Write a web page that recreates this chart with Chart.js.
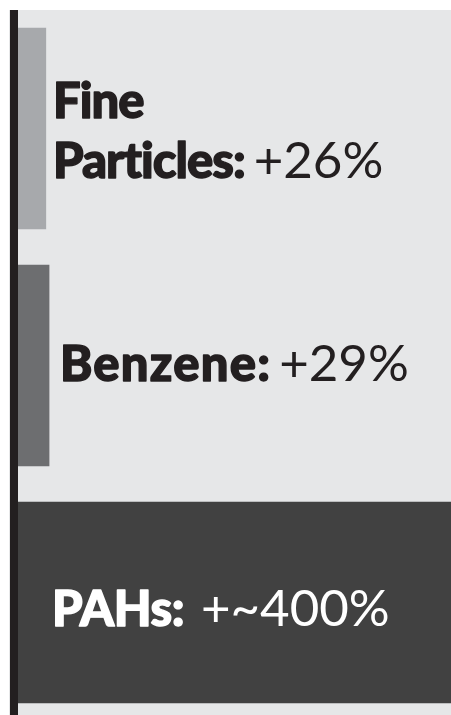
<!DOCTYPE html>
<html>
<head>
<meta charset="utf-8">
<script src="https://cdn.jsdelivr.net/npm/chart.js@4"></script>
<style>
  html, body { margin: 0; padding: 0; background: #ffffff; overflow: hidden; }
  #wrap { width: 451px; height: 715px; overflow: hidden; position: relative; }
  canvas { display: block; }
</style>
</head>
<body>
<div id="wrap"><canvas id="c" width="451" height="725"></canvas></div>
<script>
// ---- data ----
const categories = ['Fine Particles', 'Benzene', 'PAHs'];
const labelLines = [['Fine', 'Particles:'], ['Benzene:'], ['PAHs:']];
const valueLabels = ['+26%', '+29%', '+~400%'];
const increases = [26, 29, 400];

const barColors = ['#a7a9ac', '#6d6e70', '#414141'];
const textColors = ['#231f20', '#231f20', '#ffffff'];

const panelPlugin = {
  id: 'panel',
  beforeDraw(chart) {
    const ctx = chart.ctx;
    ctx.save();
    ctx.fillStyle = '#e6e7e8';
    ctx.fillRect(9, 10, chart.width - 9, chart.height - 10);
    ctx.restore();
  },
  afterDatasetsDraw(chart) {
    const ctx = chart.ctx, a = chart.chartArea;
    ctx.save();
    ctx.fillStyle = '#231f20';
    ctx.fillRect(a.left - 8, 10, 8, chart.height - 10);
    const meta = chart.getDatasetMeta(0);
    const boldFont = '900 49px Lato, "Open Sans", sans-serif';
    const regFont = '400 51px Lato, "Open Sans", sans-serif';
    const cfg = [
      { x: 53, dy: [-11, 49], gap: 9, ls: '-1px' },
      { x: 60, dy: [15], gap: 8, ls: '1.2px' },
      { x: 52, dy: [23], gap: 17, ls: '-0.5px' }
    ];
    ctx.textBaseline = 'alphabetic';
    ctx.textAlign = 'left';
    ctx.lineJoin = 'round';
    meta.data.forEach((bar, i) => {
      const c = cfg[i];
      const lines = labelLines[i];
      ctx.fillStyle = textColors[i];
      ctx.strokeStyle = textColors[i];
      let lastEnd = 0, lastY = 0;
      lines.forEach((ln, j) => {
        const y = bar.y + c.dy[j];
        ctx.font = boldFont;
        ctx.letterSpacing = c.ls;
        ctx.lineWidth = 1.4;
        ctx.fillText(ln, c.x, y);
        ctx.strokeText(ln, c.x, y);
        lastEnd = c.x + ctx.measureText(ln).width;
        lastY = y;
      });
      ctx.font = regFont;
      ctx.letterSpacing = '0px';
      ctx.fillText(valueLabels[i], lastEnd + c.gap, lastY);
    });
    ctx.restore();
  }
};

new Chart(document.getElementById('c'), {
  type: 'bar',
  data: {
    labels: categories,
    datasets: [{
      data: increases,
      backgroundColor: barColors,
      borderWidth: 0,
      categoryPercentage: 1,
      barPercentage: 0.851
    }]
  },
  options: {
    indexAxis: 'y',
    responsive: false,
    devicePixelRatio: 1,
    animation: false,
    layout: { padding: { left: 18, right: 0, top: 10, bottom: 4 } },
    plugins: { legend: { display: false }, tooltip: { enabled: false } },
    scales: {
      x: { display: false, min: 0, max: 400 },
      y: { display: false }
    }
  },
  plugins: [panelPlugin]
});
</script>
</body>
</html>
